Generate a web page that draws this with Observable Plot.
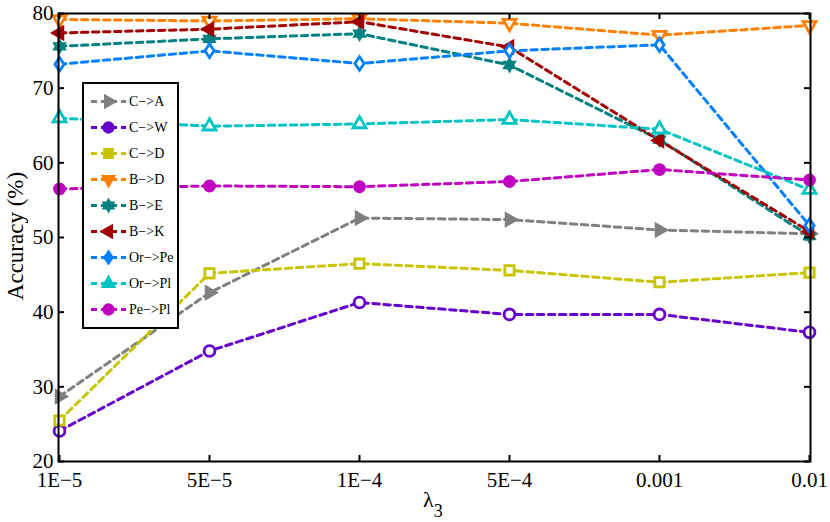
<!DOCTYPE html>
<html><head><meta charset="utf-8">
<script src="https://cdn.jsdelivr.net/npm/d3@7"></script>
<script src="https://cdn.jsdelivr.net/npm/@observablehq/plot@0.6"></script>
<style>body{margin:0;background:#fff}</style>
</head><body><div id="chart"></div>
<script>
const categories = ["1E\u22125","5E\u22125","1E\u22124","5E\u22124","0.001","0.01"];
const yTicks = [20,30,40,50,60,70,80];
const seriesNames = ["C\u2212>A","C\u2212>W","C\u2212>D","B\u2212>D","B\u2212>E","B\u2212>K","Or\u2212>Pe","Or\u2212>Pl","Pe\u2212>Pl"];
const cA   = [28.7, 42.6, 52.6, 52.4, 51.0, 50.5];
const cW   = [24.1, 34.8, 41.3, 39.7, 39.7, 37.3];
const cD   = [25.5, 45.2, 46.5, 45.6, 44.0, 45.3];
const bD   = [79.2, 79.0, 79.3, 78.7, 77.1, 78.4];
const bE   = [75.6, 76.6, 77.3, 73.1, 63.1, 50.2];
const bK   = [77.4, 77.9, 78.9, 75.5, 63.0, 50.8];
const orPe = [73.2, 75.0, 73.3, 75.0, 75.8, 51.6];
const orPl = [66.0, 64.9, 65.2, 65.8, 64.5, 56.4];
const pePl = [56.5, 56.9, 56.8, 57.5, 59.1, 57.7];
const seriesValues = [cA, cW, cD, bD, bE, bK, orPe, orPl, pePl];
const colors = ["#808080","#6600cc","#c8c400","#ff8000","#008080","#a00000","#0080ff","#00c4c4","#c000c0"];

const FONT = "'Liberation Serif', serif";
// custom marker shapes (size = area, like d3 symbols)
const rad = s => Math.sqrt(s / Math.PI);
const poly = (ctx, pts) => { ctx.moveTo(pts[0][0], pts[0][1]); for (const p of pts.slice(1)) ctx.lineTo(p[0], p[1]); ctx.closePath(); };
const triDir = ang => ({draw(ctx, size){ const r = rad(size); poly(ctx, [0,1,2].map(k => [r*Math.cos(ang + k*2*Math.PI/3), r*Math.sin(ang + k*2*Math.PI/3)])); }});
const triRight = triDir(0), triLeft = triDir(Math.PI), triDown = triDir(Math.PI/2), triUp = triDir(-Math.PI/2);
const circ = {draw(ctx, size){ const r = rad(size)*0.72; ctx.moveTo(r,0); ctx.arc(0,0,r,0,2*Math.PI); }};
const sq = {draw(ctx, size){ const h = rad(size)*0.62; poly(ctx, [[-h,-h],[h,-h],[h,h],[-h,h]]); }};
const dia = {draw(ctx, size){ const r = rad(size)*0.9; poly(ctx, [[0,-r],[0.68*r,0],[0,r],[-0.68*r,0]]); }};
const hexa = {draw(ctx, size){ const r = rad(size)*0.85, ri = r/Math.sqrt(3); const pts=[]; for(let k=0;k<12;k++){ const a=-Math.PI/2 + k*Math.PI/6; const rr = k%2===0? r: ri; pts.push([rr*Math.cos(a), rr*Math.sin(a)]);} poly(ctx, pts); }};
const symbols = [triRight, circ, sq, triDown, hexa, triLeft, dia, triUp, circ];
const hollow = [false, true, true, true, false, false, true, true, false];

const W = 830, H = 522, mL = 58, mR = 20, mT = 13, mB = 61;
const innerW = W - mL - mR, innerH = H - mT - mB, tick = 6;
const markR = 7.5;
const lineMarks = [], dotMarks = [];
seriesValues.forEach((vals, s) => {
  const rows = categories.map((c, i) => ({x: c, y: vals[i]}));
  lineMarks.push(Plot.line(rows, {x: "x", y: "y", stroke: colors[s], strokeWidth: 3, strokeDasharray: "6.5,4.5"}));
  dotMarks.push(Plot.dot(rows, {x: "x", y: "y", symbol: symbols[s], r: markR, stroke: colors[s], strokeWidth: hollow[s] ? 2.8 : 2, fill: hollow[s] ? "white" : colors[s]}));
});

const plot = Plot.plot({
  width: W, height: H,
  marginLeft: mL, marginRight: mR, marginTop: mT, marginBottom: mB,
  style: {fontFamily: FONT, fontSize: "21px", background: "white", color: "black"},
  x: {type: "point", domain: categories, padding: 0},
  y: {domain: [20, 80]},
  marks: [
    ...lineMarks,
    ...dotMarks,
    Plot.frame({stroke: "black", strokeWidth: 2}),
    // inward ticks on all four sides
    Plot.ruleX(categories, {x: d => d, insetTop: innerH - tick, stroke: "black", strokeWidth: 2}),
    Plot.ruleX(categories, {x: d => d, insetBottom: innerH - tick, stroke: "black", strokeWidth: 2}),
    Plot.ruleY(yTicks, {y: d => d, insetRight: innerW - tick, stroke: "black", strokeWidth: 2}),
    Plot.ruleY(yTicks, {y: d => d, insetLeft: innerW - tick, stroke: "black", strokeWidth: 2}),
    Plot.axisX({anchor: "bottom", tickSize: 0, tickPadding: 11, label: null}),
    Plot.axisY({anchor: "left", ticks: yTicks, tickSize: 0, tickPadding: 5, label: null})
  ]
});
document.getElementById("chart").appendChild(plot);

const svg = d3.select(plot);
// axis titles
const xl = svg.append("text").attr("x", 423).attr("y", 507).attr("text-anchor", "start")
  .style("font-family", FONT).style("font-size", "22px");
xl.append("tspan").text("\u03bb");
xl.append("tspan").attr("dy", 10).style("font-size", "18px").text("3");
svg.append("text").attr("transform", "translate(23,236) rotate(-90)").attr("text-anchor", "middle")
  .style("font-family", FONT).style("font-size", "23px").text("Accuracy (%)");

// legend
const lg = svg.append("g");
lg.append("rect").attr("x", 83).attr("y", 83).attr("width", 95).attr("height", 245)
  .attr("fill", "white").attr("stroke", "black").attr("stroke-width", 2);
seriesNames.forEach((name, s) => {
  const yy = 101.5 + s * 26;
  lg.append("line").attr("x1", 91).attr("x2", 126).attr("y1", yy).attr("y2", yy)
    .attr("stroke", colors[s]).attr("stroke-width", 3).attr("stroke-dasharray", "6,4");
  lg.append("path").attr("d", d3.symbol().type(symbols[s]).size(Math.PI * markR * markR)())
    .attr("transform", `translate(108.5,${yy})`).attr("fill", colors[s]).attr("stroke", colors[s]).attr("stroke-width", 1.5);
  lg.append("text").attr("x", 129).attr("y", yy).attr("dy", "0.35em").attr("text-anchor", "start")
    .style("font-family", FONT).style("font-size", "14px").text(name);
});
</script></body></html>
